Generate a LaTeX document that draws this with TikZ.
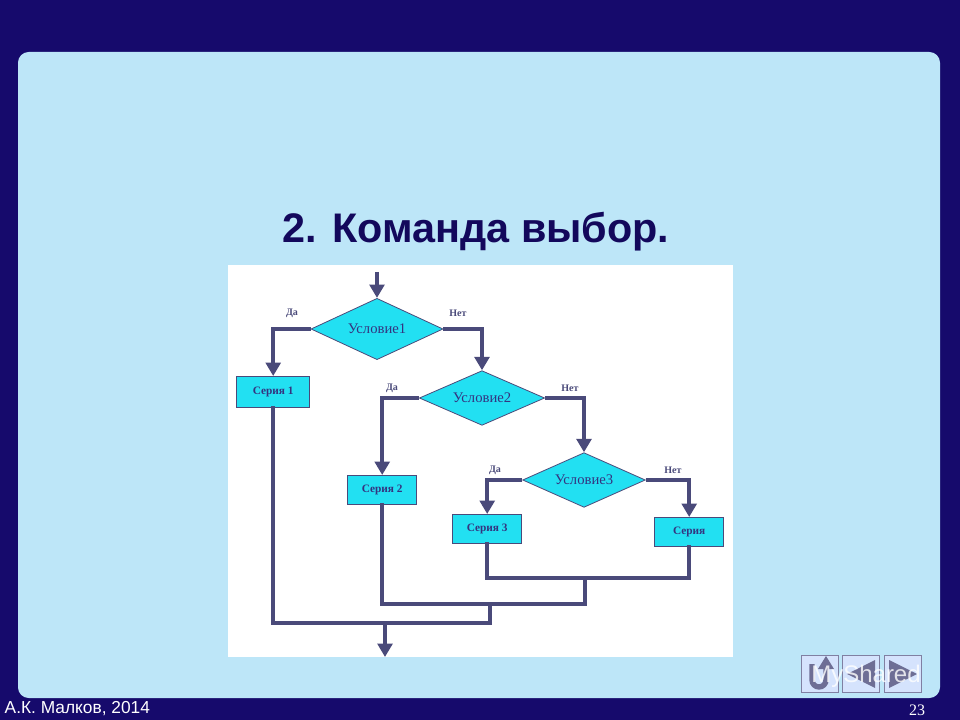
\documentclass[tikz,border=0pt]{standalone}
\usepackage{fontspec}
\setmainfont{Liberation Serif}
\newfontfamily\sans{Liberation Sans}
\usetikzlibrary{shapes.geometric,arrows.meta}
\definecolor{navy}{HTML}{160A6C}
\definecolor{panel}{HTML}{BDE6F8}
\definecolor{ln}{HTML}{4A4A7A}
\definecolor{cy}{HTML}{22E0F2}
\definecolor{tx}{HTML}{343480}
\tikzset{
  flow/.style={draw=ln,line width=3pt,line join=miter,line cap=rect},
  arr/.style={draw=ln,line width=3pt,line join=miter,-{Triangle[length=10pt,width=11pt]}},
  dia/.style={diamond,aspect=2.2,fill=cy,draw=ln,line width=0.6pt,inner sep=0pt,font=\fontsize{11}{11}\selectfont\color{tx}},
  sbox/.style={rectangle,fill=cy,draw=ln,line width=0.8pt,inner sep=0pt,font=\bfseries\fontsize{8.5}{8.5}\selectfont\color{tx}},
  lab/.style={font=\bfseries\fontsize{7.5}{7.5}\selectfont\color{ln}},
  navb/.style={rectangle,fill=panel!80!blue!40,draw=ln!70,line width=0.8pt,minimum width=28pt,minimum height=28pt},
}
\begin{document}
\begin{tikzpicture}[x=0.75pt,y=-0.75pt]
\useasboundingbox (0,0) rectangle (960,720);
\fill[navy] (0,0) rectangle (960,720);
\fill[panel,rounded corners=8pt] (18,52) rectangle (940,698);
\node[font=\sans\bfseries\fontsize{31}{31}\selectfont,text=navy!85!black] (title) at (476,232) {2. Команда выбор.};
\fill[white] (228,265) rectangle (733,657);
% shapes
\node[dia,minimum width=99pt,minimum height=46pt] (d1) at (377,329) {Условие1};
\node[dia,minimum width=94pt,minimum height=41pt] (d2) at (482,398) {Условие2};
\node[dia,minimum width=92pt,minimum height=41pt] (d3) at (584,480) {Условие3};
\node[sbox,minimum width=55pt,minimum height=23pt,anchor=north west] (s1) at (236,376) {Серия 1};
\node[sbox,minimum width=52pt,minimum height=22pt,anchor=north west] (s2) at (347,475) {Серия 2};
\node[sbox,minimum width=52pt,minimum height=22pt,anchor=north west] (s3) at (452,514) {Серия 3};
\node[sbox,minimum width=52pt,minimum height=22pt,anchor=north west] (s4) at (654,517) {Серия};
\node[lab] (y1) at (292,313) {Да};
\node[lab] (n1) at (458,313) {Нет};
\node[lab] (y2) at (392,388) {Да};
\node[lab] (n2) at (570,388) {Нет};
\node[lab] (y3) at (495,470) {Да};
\node[lab] (n3) at (673,470) {Нет};
% connectors
\coordinate (top) at (377,272);
\draw[arr] (top) -- (d1.north);
\draw[arr] (d1.west) -| (s1.north);
\draw[arr] (d1.east) -| (d2.north);
\draw[arr] (d2.west) -| (s2.north);
\draw[arr] (d2.east) -| (d3.north);
\draw[arr] (d3.west) -| (s3.north);
\draw[arr] (d3.east) -| (s4.north);
\coordinate (m3) at (585,578);
\coordinate (m2) at (490,604);
\coordinate (m1) at (385,623);
\coordinate (out) at (385,657);
\draw[flow] (s3.south) |- (m3) -| (s4.south);
\draw[flow] (m3) -- (585,604);
\draw[flow] (s2.south) |- (585,604);
\draw[flow] (m2) -- (490,623);
\draw[flow] (s1.south) |- (490,623);
\draw[arr] (m1) -- (out);
% footer
\node[font=\sans\fontsize{13}{13}\selectfont,text=white,anchor=west] (auth) at (0,709) {А.К. Малков, 2014};
\node[font=\fontsize{12}{12}\selectfont,text=white] (num) at (917,710) {23};
\node[navb] (b1) at (820,674) {};
\node[navb] (b2) at (861,674) {};
\node[navb] (b3) at (903,674) {};
\draw[ln!80,line width=4pt] (812,664) -- (812,680) arc (180:0:7) -- (826,669);
\fill[ln!80] (826,656) -- (834,669) -- (818,669) -- cycle;
\fill[ln!80] (847,674) -- (875,660) -- (875,688) -- cycle;
\fill[ln!80] (917,674) -- (889,660) -- (889,688) -- cycle;
\node[font=\sans\fontsize{18}{18}\selectfont,text=white,opacity=0.8] (wm) at (866,676) {MyShared};
\end{tikzpicture}
\end{document}
